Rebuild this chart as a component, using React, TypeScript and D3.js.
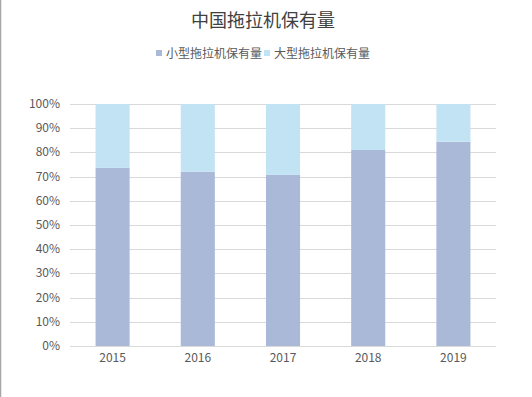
import * as d3 from "d3";
import React from "react";

const years = ["2015", "2016", "2017", "2018", "2019"];
const smallShare = [0.736, 0.72, 0.707, 0.81, 0.844];
const seriesNames = ["小型拖拉机保有量", "大型拖拉机保有量"];
const seriesColors = ["#abb9d9", "#c2e3f3"];
const yTicks = [0, 0.1, 0.2, 0.3, 0.4, 0.5, 0.6, 0.7, 0.8, 0.9, 1];

const font = "'Noto Sans CJK SC', 'Microsoft YaHei', sans-serif";

export default function App() {
  const width = 532;
  const height = 397;
  const left = 70;
  const right = 496;
  const top = 104;
  const bottom = 346;

  const x = d3.scaleBand().domain(years).range([left, right]).paddingInner(0.6).paddingOuter(0.3);
  const y = d3.scaleLinear().domain([0, 1]).range([bottom, top]);
  const fmt = d3.format(".0%");

  const stacked = years.map((yr, i) => ({ year: yr, small: smallShare[i], large: 1 - smallShare[i] }));
  const series = d3.stack<any>().keys(["small", "large"])(stacked);

  return (
    <svg width={width} height={height} style={{ position: "absolute", left: 0, top: 0, background: "#fff" }} fontFamily={font}>
      <line x1={0.5} x2={0.5} y1={0} y2={height} stroke="#a6a6a6" strokeWidth={1.5} />
      <text x={263} y={27} textAnchor="middle" fontSize={18} fill="#404040">中国拖拉机保有量</text>

      {seriesNames.map((name, i) => {
        const lx = i === 0 ? 156 : 264;
        return (
          <g key={name}>
            <rect x={lx} y={50} width={6} height={6} fill={seriesColors[i]} />
            <text x={lx + 10} y={57.5} fontSize={12} fill="#595959">{name}</text>
          </g>
        );
      })}

      {yTicks.map((t) => (
        <g key={t}>
          <line x1={left} x2={right} y1={Math.round(y(t)) + 0.5} y2={Math.round(y(t)) + 0.5} stroke="#d9d9d9" />
          <text x={60} y={y(t) + 4} textAnchor="end" fontSize={12} fill="#595959">{fmt(t)}</text>
        </g>
      ))}

      {series.map((s, si) => (
        <g key={s.key} fill={seriesColors[si]}>
          {s.map((d) => (
            <rect
              key={d.data.year}
              x={x(d.data.year)}
              y={y(d[1])}
              width={x.bandwidth()}
              height={y(d[0]) - y(d[1])}
            />
          ))}
        </g>
      ))}

      <line x1={left} x2={right} y1={bottom + 0.5} y2={bottom + 0.5} stroke="#d9d9d9" />
      {years.map((yr) => (
        <text key={yr} x={(x(yr) as number) + x.bandwidth() / 2} y={362} textAnchor="middle" fontSize={12} fill="#595959">{yr}</text>
      ))}
    </svg>
  );
}
